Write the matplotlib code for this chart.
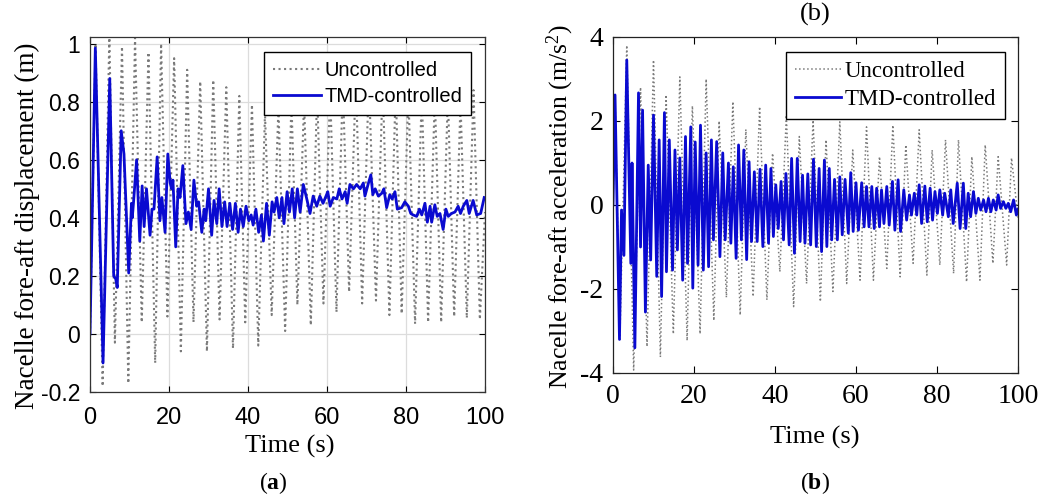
import matplotlib
matplotlib.use("Agg")
import matplotlib.pyplot as plt

# ---- (a) nacelle fore-aft displacement, values read at turning points ----
disp_unc_t = [0.0, 1.4, 3.2, 4.9, 6.3, 8.1, 9.7, 11.4, 13.1, 14.8, 16.5, 18.0, 19.6, 21.3,
              23.0, 24.6, 26.2, 27.9, 29.6, 31.2, 32.8, 34.5, 36.2, 37.8, 39.3, 41.0, 42.6,
              44.3, 46.0, 47.7, 49.4, 51.0, 52.5, 54.2, 55.9, 57.5, 59.1, 60.8, 62.4, 64.0,
              65.6, 67.3, 68.9, 70.6, 72.4, 74.1, 75.8, 77.4, 78.9, 80.6, 82.3, 84.0, 85.6,
              87.3, 88.9, 90.6, 92.2, 93.8, 95.4, 97.1, 98.7, 100.0]
disp_unc_v = [0.0, 1.0, -0.18, 1.03, -0.03, 0.99, -0.17, 1.02, 0.04, 0.97, -0.10, 1.0, 0.06, 0.95,
              -0.06, 0.91, 0.04, 0.87, -0.06, 0.875, 0.05, 0.85, -0.05, 0.82, 0.04, 0.79, -0.04,
              0.76, 0.065, 0.78, 0.01, 0.80, 0.10, 0.80, 0.03, 0.83, 0.105, 0.84, 0.075, 0.86,
              0.145, 0.88, 0.105, 0.88, 0.115, 0.86, 0.065, 0.85, 0.07, 0.83, 0.035, 0.83, 0.04,
              0.82, 0.04, 0.82, 0.06, 0.80, 0.055, 0.84, 0.05, 0.42]

disp_tmd_t = [0.0, 1.35, 3.3, 5.0, 6.0, 6.5, 6.9, 7.9, 8.6, 9.8, 10.5, 10.7, 11.0, 11.8, 12.6,
              13.2, 13.7, 14.3, 15.2, 15.7, 16.2, 17.0, 17.7, 18.2, 19.0, 19.7, 20.3, 20.7,
              21.0, 21.7, 22.3, 22.8, 23.5, 24.3, 24.9, 25.6, 26.3, 27.0, 27.5, 28.3, 28.9,
              29.3, 30.0, 30.8, 31.4, 32.1, 32.7, 33.4, 34.1, 34.7, 35.4, 36.1, 36.8, 37.5,
              38.1, 38.8, 39.5, 40.2, 40.8, 41.3, 42.0, 42.7, 43.4, 43.9, 44.7, 45.4, 46.1,
              46.6, 47.3, 47.9, 48.6, 49.1, 49.9, 50.5, 51.2, 51.8, 52.5, 53.2, 54.0, 54.8,
              55.7, 56.5, 57.4, 58.2, 59.0, 60.2, 60.8, 61.6, 62.5, 63.1, 63.8, 64.6, 65.1,
              65.8, 66.7, 67.5, 68.4, 69.2, 69.6, 70.5, 71.1, 71.6, 72.2, 73.0, 73.9, 74.4,
              75.1, 75.9, 76.5, 77.2, 77.8, 78.9, 79.7, 80.6, 81.2, 81.8, 82.7, 83.4, 84.0,
              84.8, 85.4, 86.1, 86.5, 87.3, 87.9, 88.6, 89.4, 90.1, 90.7, 91.5, 92.4, 93.2,
              93.8, 94.5, 95.4, 96.0, 97.0, 97.9, 98.9, 99.8]
disp_tmd_v = [0.0, 0.985, -0.10, 0.88, 0.20, 0.19, 0.16, 0.70, 0.62, 0.21, 0.45, 0.40, 0.45, 0.60,
              0.32, 0.51, 0.37, 0.50, 0.34, 0.43, 0.43, 0.61, 0.39, 0.47, 0.35, 0.62, 0.52, 0.50,
              0.53, 0.30, 0.50, 0.47, 0.58, 0.38, 0.42, 0.36, 0.53, 0.44, 0.455, 0.35, 0.43,
              0.39, 0.50, 0.34, 0.46, 0.38, 0.50, 0.37, 0.455, 0.37, 0.45, 0.36, 0.45, 0.35,
              0.43, 0.37, 0.44, 0.39, 0.41, 0.375, 0.43, 0.35, 0.41, 0.32, 0.45, 0.34, 0.455,
              0.42, 0.47, 0.40, 0.47, 0.38, 0.49, 0.42, 0.50, 0.40, 0.50, 0.42, 0.515, 0.47,
              0.415, 0.475, 0.44, 0.475, 0.45, 0.49, 0.44, 0.47, 0.465, 0.50, 0.465, 0.49, 0.45,
              0.515, 0.50, 0.515, 0.50, 0.52, 0.475, 0.52, 0.548, 0.48, 0.50, 0.475, 0.485, 0.50,
              0.435, 0.48, 0.465, 0.49, 0.43, 0.435, 0.455, 0.44, 0.415, 0.41, 0.405, 0.43, 0.41,
              0.45, 0.385, 0.44, 0.385, 0.445, 0.405, 0.415, 0.36, 0.43, 0.405, 0.415, 0.42, 0.44,
              0.415, 0.44, 0.46, 0.415, 0.46, 0.41, 0.415, 0.47]

# ---- (b) nacelle fore-aft acceleration ----
acc_unc_t = [0.0, 0.5, 1.7, 3.4, 5.1, 6.8, 8.4, 10.0, 11.7, 13.1, 14.9, 16.5, 18.3, 19.6, 21.5,
             23.0, 24.9, 26.2, 28.0, 29.6, 31.4, 32.8, 34.6, 36.2, 38.0, 39.4, 41.2, 42.8, 44.6,
             46.0, 47.8, 49.4, 51.2, 52.6, 54.3, 56.0, 57.7, 59.2, 61.0, 62.6, 64.3, 65.8, 67.6,
             69.1, 70.9, 72.3, 74.1, 75.6, 77.5, 78.8, 80.7, 82.1, 84.1, 85.3, 87.3, 88.6, 90.6,
             91.9, 93.8, 95.1, 97.2, 98.4, 100.0]
acc_unc_v = [0.0, 2.6, -3.2, 3.8, -3.93, 2.8, -3.37, 3.45, -3.62, 2.62, -3.07, 3.05, -3.23, 2.36,
             -3.07, 3.0, -2.75, 2.0, -2.2, 2.46, -2.62, 1.8, -2.18, 2.34, -2.26, 1.23, -1.59, 2.14,
             -2.42, 1.63, -1.87, 2.02, -2.3, 1.55, -2.06, 1.98, -1.87, 1.31, -1.79, 1.86, -1.79,
             1.15, -1.51, 1.9, -1.71, 1.43, -1.39, 1.79, -1.67, 1.31, -1.43, 1.55, -1.63, 1.55,
             -1.83, 1.15, -1.79, 1.43, -1.39, 1.15, -1.43, 1.12, -0.3]

acc_tmd_t = [0.0, 0.5, 1.6, 2.1, 2.7, 3.4, 4.4, 4.7, 5.4, 6.3, 6.8, 7.3, 8.0, 8.7, 9.3, 10.0,
             10.8, 11.4, 12.0, 12.7, 13.2, 13.9, 14.7, 15.3, 15.9, 16.5, 17.2, 17.9, 18.4, 19.2,
             19.7, 20.3, 21.0, 21.6, 22.3, 23.0, 23.6, 24.3, 24.8, 25.6, 26.4, 27.1, 27.7, 28.5,
             29.1, 29.7, 30.4, 31.0, 31.7, 32.3, 33.0, 33.6, 34.2, 34.9, 35.6, 36.3, 37.0, 37.7,
             38.4, 39.0, 39.6, 40.2, 40.8, 41.5, 42.1, 42.7, 43.5, 44.1, 44.8, 45.5, 46.2, 46.8,
             47.4, 48.1, 48.8, 49.5, 50.2, 50.9, 51.5, 52.2, 52.8, 53.4, 54.0, 54.7, 55.4, 56.0,
             56.6, 57.3, 58.1, 58.7, 59.3, 60.0, 60.6, 61.4, 62.0, 62.6, 63.2, 63.9, 64.5, 65.1,
             65.8, 66.3, 66.9, 67.6, 68.2, 69.0, 69.6, 70.4, 71.0, 71.8, 72.5, 73.2, 73.7, 74.4,
             75.0, 75.6, 76.2, 77.0, 77.6, 78.3, 78.9, 79.5, 80.1, 80.7, 81.4, 81.9, 82.8, 83.4,
             84.0, 85.0, 85.7, 86.5, 87.1, 87.7, 88.3, 89.0, 89.6, 90.2, 90.8, 91.5, 92.1, 92.7,
             93.3, 93.9, 94.6, 95.1, 95.7, 96.4, 97.0, 97.6, 98.2, 98.9, 99.6, 100.0]
acc_tmd_v = [0.0, 2.62, -3.2, -0.12, -1.2, 3.45, -1.39, 1.0, -3.4, 2.67, -1.0, 2.26, -2.55, 0.95,
             -1.31, 2.14, -1.7, 1.55, -2.18, 2.2, -1.59, 1.55, -1.55, 1.31, -1.07, 1.12, -1.79,
             1.63, -1.39, 1.86, -1.98, 1.5, -1.43, 1.9, -1.55, 1.24, -1.47, 1.55, -0.83, 1.51,
             -1.23, 1.24, -0.83, 1.0, -0.91, 0.91, -1.27, 1.43, -0.83, 1.31, -1.3, 1.03, -0.87,
             0.79, -0.87, 0.85, -0.99, 0.95, -0.91, 0.87, -0.75, 0.48, -0.56, 0.56, -0.83, 0.75,
             -0.95, 1.11, -1.15, 1.11, -0.87, 0.71, -0.91, 0.74, -0.95, 1.09, -0.99, 0.87, -1.11,
             1.07, -0.99, 0.87, -0.83, 0.61, -0.83, 0.67, -0.71, 0.61, -0.67, 0.77, -0.63, 0.53,
             -0.6, 0.53, -0.52, 0.44, -0.52, 0.44, -0.56, 0.40, -0.52, 0.36, -0.44, 0.44, -0.48,
             0.56, -0.6, 0.6, -0.63, 0.36, -0.36, 0.24, -0.24, 0.28, -0.24, 0.48, -0.44, 0.45,
             -0.40, 0.40, -0.36, 0.32, -0.2, 0.36, -0.24, 0.28, -0.28, 0.36, -0.44, 0.52, -0.56,
             0.52, -0.56, 0.28, -0.28, 0.32, -0.2, 0.16, -0.12, 0.12, -0.16, 0.16, -0.16, 0.12,
             -0.12, 0.24, -0.08, 0.08, -0.08, 0.04, -0.16, 0.12, -0.24, -0.1]

ticks_t = [0, 20, 40, 60, 80, 100]
ticks_disp = [-0.2, 0, 0.2, 0.4, 0.6, 0.8, 1]
ticks_acc = [-4, -2, 0, 2, 4]

plt.rcParams['axes.unicode_minus'] = False
plt.rcParams['mathtext.fontset'] = 'custom'
plt.rcParams['mathtext.rm'] = 'Liberation Serif'
plt.rcParams['mathtext.it'] = 'Liberation Serif:italic'
plt.rcParams['mathtext.bf'] = 'Liberation Serif:bold'

W, H = 1041, 499
fig = plt.figure(figsize=(W / 100, H / 100), dpi=100)

def px_axes(x0, y0, x1, y1):
    return fig.add_axes([x0 / W, 1 - y1 / H, (x1 - x0) / W, (y1 - y0) / H])

GRAY = '#7a7a7a'
BLUE = '#0a0ad0'

# ----- panel (a) -----
ax1 = px_axes(90, 37, 485, 392)
ax1.plot(disp_unc_t, disp_unc_v, ':', color=GRAY, lw=1.5, label='Uncontrolled')
ax1.plot(disp_tmd_t, disp_tmd_v, '-', color=BLUE, lw=2.0, label='TMD-controlled')
ax1.set_xlim(0, 100)
ax1.set_ylim(-0.2, 1.023)
ax1.set_xticks(ticks_t)
ax1.set_yticks(ticks_disp)
ax1.set_yticklabels(['-0.2', '0', '0.2', '0.4', '0.6', '0.8', '1'])
ax1.grid(True, color='#dcdcdc', lw=0.9)
ax1.set_axisbelow(True)
ax1.tick_params(direction='in', top=True, right=True, length=4, width=0.8)
for lab in ax1.get_yticklabels():
    lab.set_fontfamily('Liberation Sans')
    lab.set_fontsize(16.5)
for lab in ax1.get_xticklabels():
    lab.set_fontfamily('Liberation Sans')
    lab.set_fontsize(17)
ax1.tick_params(axis='x', pad=11)
ax1.tick_params(axis='y', pad=7)
for s in ax1.spines.values():
    s.set_linewidth(0.9)
    s.set_color('#333333')
leg1 = ax1.legend(loc='upper right', bbox_to_anchor=(0.9646, 0.9577), borderaxespad=0,
                  prop={'family': 'Liberation Sans', 'size': 14.5}, fancybox=False,
                  edgecolor='black', framealpha=1, handlelength=2.4, handletextpad=0.15,
                  borderpad=0.45, labelspacing=0.35)
leg1.get_frame().set_linewidth(1.0)

fig.text(27 / W, 1 - 226 / H, 'Nacelle fore-aft displacement (m)', rotation=90,
         ha='center', va='center', family='Liberation Serif', fontsize=19.5)
fig.text(290 / W, 1 - 446 / H, 'Time (s)', ha='center', va='center',
         family='Liberation Serif', fontsize=19)
fig.text(273 / W, 1 - 483 / H, r'($\mathbf{a}$)', ha='center', va='center',
         family='Liberation Serif', fontsize=17)

# ----- panel (b) -----
ax2 = px_axes(613, 37, 1018, 373)
ax2.plot(acc_unc_t, acc_unc_v, ':', color=GRAY, lw=1.1, label='Uncontrolled')
ax2.plot(acc_tmd_t, acc_tmd_v, '-', color=BLUE, lw=2.0, label='TMD-controlled')
ax2.set_xlim(0, 100)
ax2.set_ylim(-4, 4)
ax2.set_xticks(ticks_t)
ax2.set_yticks(ticks_acc)
ax2.tick_params(direction='in', top=True, right=True, length=5, width=0.8)
for lab in ax2.get_xticklabels() + ax2.get_yticklabels():
    lab.set_fontfamily('Liberation Serif')
    lab.set_fontsize(20)
ax2.tick_params(axis='x', pad=8)
ax2.tick_params(axis='y', pad=7)
for s in ax2.spines.values():
    s.set_linewidth(0.9)
    s.set_color('#222222')
leg2 = ax2.legend(loc='upper right', bbox_to_anchor=(0.968, 0.955), borderaxespad=0,
                  prop={'family': 'Liberation Serif', 'size': 16.5}, fancybox=False,
                  edgecolor='black', framealpha=1, handlelength=2.0, handletextpad=0.15,
                  borderpad=0.4, labelspacing=0.3)
leg2.get_frame().set_linewidth(1.0)

fig.text(560 / W, 1 - 207 / H, 'Nacelle fore-aft acceleration (m/s$^{2}$)', rotation=90,
         ha='center', va='center', family='Liberation Serif', fontsize=18.5)
fig.text(815 / W, 1 - 437 / H, 'Time (s)', ha='center', va='center',
         family='Liberation Serif', fontsize=19)
fig.text(815 / W, 1 - 483 / H, r'($\mathbf{b}$)', ha='center', va='center',
         family='Liberation Serif', fontsize=17)
fig.text(815 / W, 1 - 14 / H, '(b)', ha='center', va='center',
         family='Liberation Serif', fontsize=19)

fig.savefig('out.png', dpi=100)
